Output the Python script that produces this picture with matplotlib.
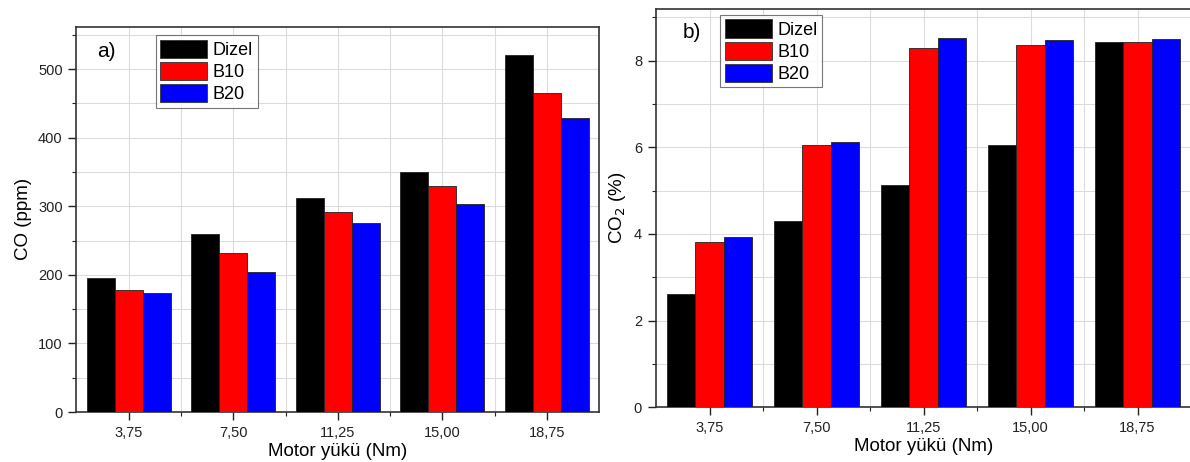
import numpy as np
import matplotlib

matplotlib.use("Agg")
import matplotlib.pyplot as plt
from matplotlib.ticker import MultipleLocator, FixedLocator

plt.rcParams["font.family"] = ["Liberation Sans", "DejaVu Sans"]

loads = ["3,75", "7,50", "11,25", "15,00", "18,75"]
fuels = ["Dizel", "B10", "B20"]
colors = ["#000000", "#ff0000", "#0000ff"]

co_dizel = [196, 259, 312, 350, 521]
co_b10 = [178, 232, 291, 329, 466]
co_b20 = [173, 204, 276, 303, 429]

co2_dizel = [2.62, 4.30, 5.14, 6.05, 8.42]
co2_b10 = [3.81, 6.06, 8.28, 8.36, 8.42]
co2_b20 = [3.92, 6.13, 8.52, 8.48, 8.50]

W, H = 1190, 462
fig = plt.figure(figsize=(W / 100, H / 100), dpi=100)

# axes boxes in pixels: left, top, right, bottom
boxes = [(76.5, 26.7, 599, 412), (656, 9, 1191, 407.3)]


def make_ax(box):
    l, t, r, b = box
    return fig.add_axes([l / W, 1 - b / H, (r - l) / W, (b - t) / H])


def draw(ax, series, ylim, major, minor, ylabel, tag, tag_xy, leg_xy):
    x = np.arange(1, len(loads) + 1)
    bw = 0.8 / 3
    for i, (vals, name, c) in enumerate(zip(series, fuels, colors)):
        ax.bar(x + (i - 1) * bw, vals, width=bw, color=c, edgecolor="#222222",
               linewidth=0.6, label=name, zorder=3)
    ax.set_xlim(0.5, 5.5)
    ax.set_ylim(*ylim)
    ax.set_xticks(x)
    ax.set_xticklabels(loads)
    ax.xaxis.set_minor_locator(FixedLocator(x[:-1] + 0.5))
    ax.yaxis.set_major_locator(MultipleLocator(major))
    ax.yaxis.set_minor_locator(MultipleLocator(minor))
    ax.grid(True, which="both", color="#dcdcdc", linewidth=0.8, zorder=0)
    ax.set_axisbelow(True)
    ax.tick_params(axis="both", which="major", direction="out", length=6,
                   width=1, labelsize=10.5, colors="#222222", pad=4)
    ax.tick_params(axis="both", which="minor", direction="out", length=3,
                   width=0.8, colors="#222222")
    for s in ax.spines.values():
        s.set_color("#333333")
        s.set_linewidth(1.2)
    ax.set_xlabel("Motor yükü (Nm)", fontsize=13.5, labelpad=2)
    ax.set_ylabel(ylabel, fontsize=13.5, labelpad=4)
    ax.text(tag_xy[0], tag_xy[1], tag, transform=ax.transAxes, fontsize=15,
            ha="left", va="center")
    leg = ax.legend(loc="upper left", bbox_to_anchor=leg_xy, fontsize=13,
                    frameon=True, fancybox=False, handlelength=2.6,
                    handleheight=1.2, labelspacing=0.15, handletextpad=0.3,
                    borderpad=0.25, borderaxespad=0)
    leg.get_frame().set_edgecolor("#555555")
    leg.get_frame().set_linewidth(0.8)
    for p in leg.get_patches():
        p.set_edgecolor("#333333")


ax1 = make_ax(boxes[0])
draw(ax1, [co_dizel, co_b10, co_b20], (0, 562), 100, 50, "CO (ppm)",
     "a)", (0.04, 0.935), (0.152, 0.978))

ax2 = make_ax(boxes[1])
draw(ax2, [co2_dizel, co2_b10, co2_b20], (0, 9.19), 2, 1, "CO$_2$ (%)",
     "b)", (0.05, 0.94), (0.12, 0.985))

fig.savefig("out.png", dpi=100)
